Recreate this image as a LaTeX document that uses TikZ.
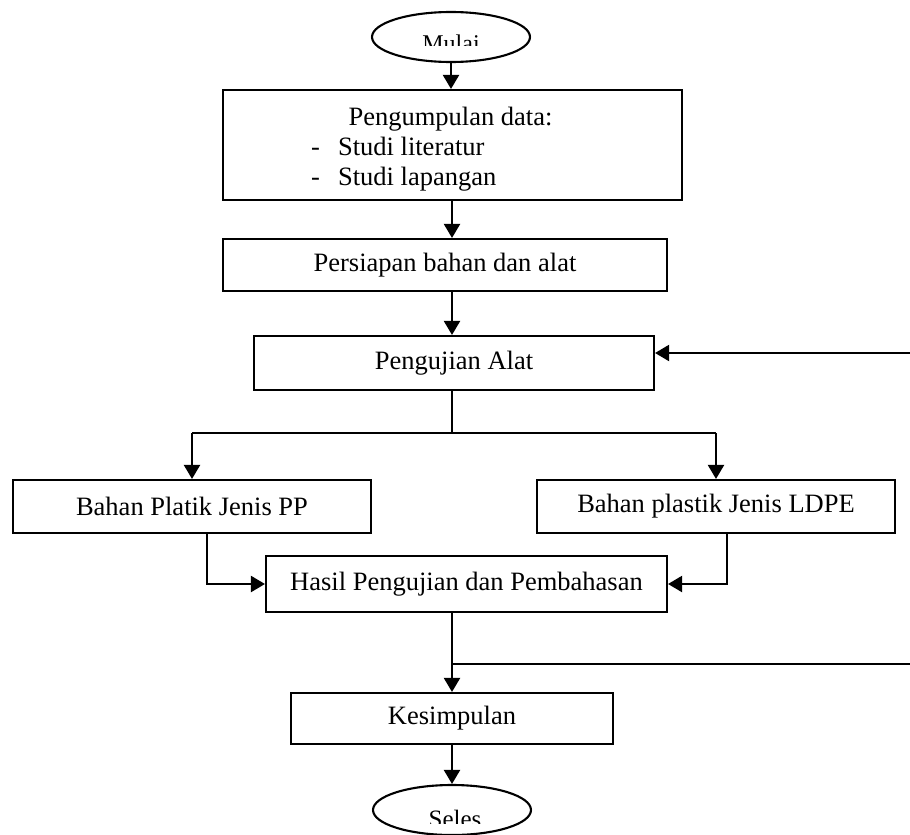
\documentclass[tikz,border=0pt]{standalone}
\usepackage{fontspec}
\setmainfont{Liberation Serif}
\usetikzlibrary{shapes.geometric,arrows.meta}
\begin{document}
\begin{tikzpicture}[x=1pt,y=-1pt,
  line width=2.1pt,
  every node/.style={font=\fontsize{26.5}{30}\selectfont, inner sep=0pt},
  box/.style={draw, rectangle, line width=2.1pt},
  oval/.style={draw, ellipse, line width=2.1pt, minimum width=158pt, minimum height=50pt},
  arr/.style={-{Triangle[length=14pt,width=16pt]}},
  lbl/.style={font=\fontsize{26.5}{30}\selectfont, anchor=base west}
]
\useasboundingbox (0,0) rectangle (910,835);

% ovals
\node[oval] (mulai) at (451,37) {};
\begin{scope}
  \clip (370,0) rectangle (535,45);
  \node[font=\fontsize{24}{28}\selectfont, anchor=base] (tmulai) at (451,51) {Mulai};
\end{scope}
\node[oval] (seles) at (452,810) {};
\begin{scope}
  \clip (370,790) rectangle (535,823);
  \node[font=\fontsize{25}{28}\selectfont, anchor=base] (tseles) at (455,827) {Seles};
\end{scope}

% boxes
\node[box, minimum width=459pt, minimum height=110pt] (n1) at (452.5,145) {};
\node[anchor=base] (t1a) at (450.5,125) {Pengumpulan data:};
\node[lbl] (t1b) at (310,155) {-};
\node[lbl] (t1c) at (337,155) {Studi literatur};
\node[lbl] (t1d) at (310,185) {-};
\node[lbl] (t1e) at (337,185) {Studi lapangan};

\node[box, minimum width=444pt, minimum height=52pt] (n2) at (445,265) {Persiapan bahan dan alat};
\node[box, minimum width=400pt, minimum height=54pt] (n3) at (454,363) {Pengujian Alat};
\node[box, minimum width=358pt, minimum height=53pt] (n4) at (192,506.5) {Bahan Platik Jenis PP};
\node[box, minimum width=358pt, minimum height=53pt] (n5) at (716,506.5) {Bahan plastik Jenis LDPE};
\node[box, minimum width=401pt, minimum height=56pt] (n6) at (466.5,584) {Hasil Pengujian dan Pembahasan};
\node[box, minimum width=322pt, minimum height=51pt] (n7) at (452,718.5) {Kesimpulan};

% helper coordinates
\coordinate (tx) at (452,0);
\coordinate (split) at (452,433);
\coordinate (lx) at (207,0);
\coordinate (rx) at (727,0);
\coordinate (fa) at (910,353);
\coordinate (fb) at (910,664);

% connectors
\draw[arr] (mulai.south) -- (mulai.south |- n1.north);
\draw[arr] (tx |- n1.south) -- (tx |- n2.north);
\draw[arr] (tx |- n2.south) -- (tx |- n3.north);
\draw (tx |- n3.south) -- (split);
\draw (n4.north |- split) -- (n5.north |- split);
\draw[arr] (n4.north |- split) -- (n4.north);
\draw[arr] (n5.north |- split) -- (n5.north);
\draw[arr] (lx |- n4.south) |- (n6.west);
\draw[arr] (rx |- n5.south) |- (n6.east);
\draw[arr] (tx |- n6.south) -- (tx |- n7.north);
\draw (tx |- fb) -- (fb);
\draw[arr] (fa) -- (n3.east |- fa);
\draw[arr] (n7.south) -- (seles.north);
\end{tikzpicture}
\end{document}
